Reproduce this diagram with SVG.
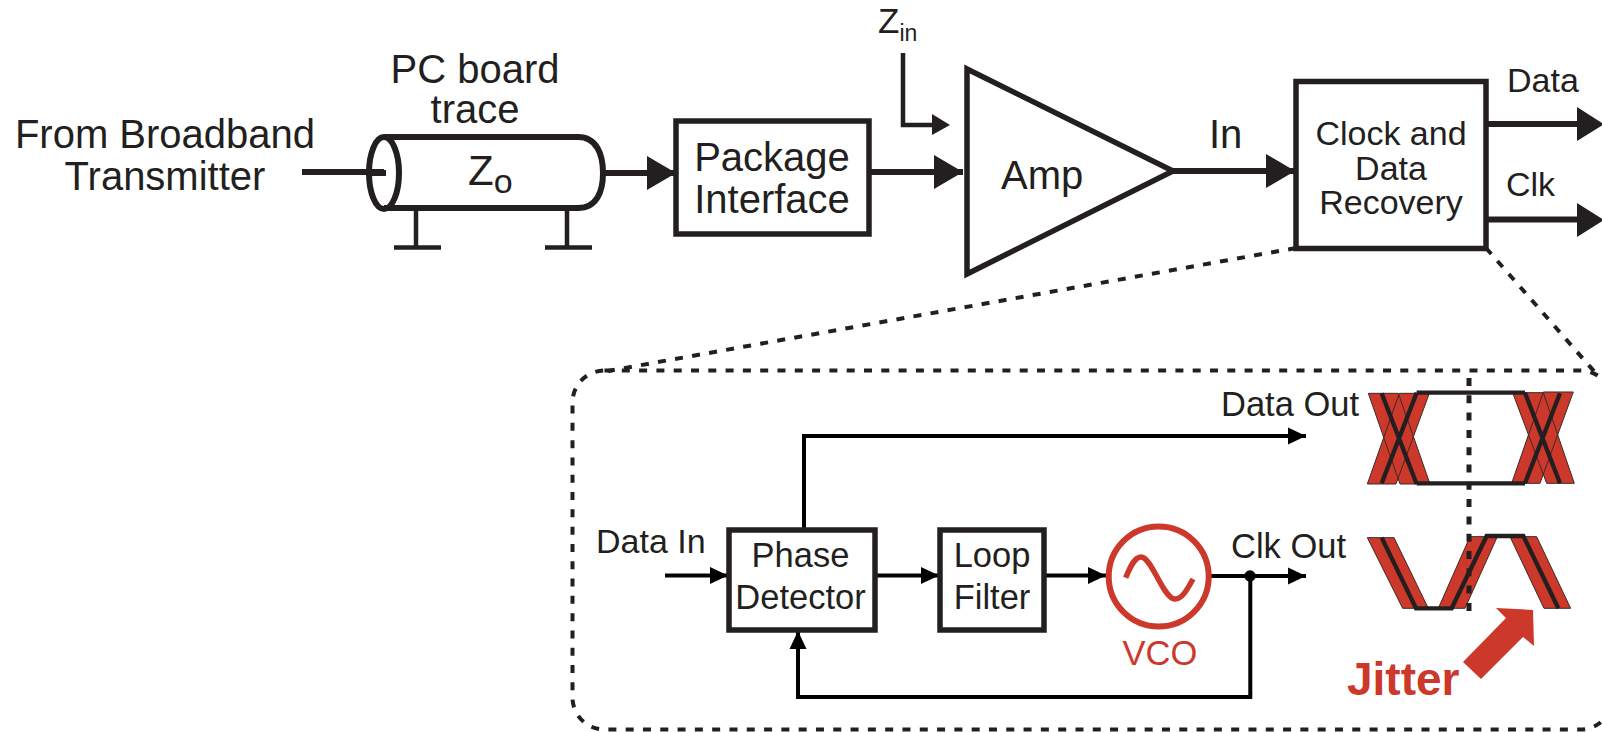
<svg xmlns="http://www.w3.org/2000/svg" width="1602" height="732" viewBox="0 0 1602 732">
<defs>
<marker id="big" markerUnits="userSpaceOnUse" markerWidth="30" markerHeight="34" refX="29" refY="17" orient="auto"><path d="M0 0L29 17L0 34Z" fill="#231f20"/></marker>
<marker id="mid" markerUnits="userSpaceOnUse" markerWidth="20" markerHeight="20" refX="18" refY="10" orient="auto"><path d="M0 1.5L18 10L0 18.500Z" fill="#000"/></marker>
</defs>
<style>
text{font-family:"Liberation Sans",Arial,sans-serif;fill:#231f20}
.box{fill:#fff;stroke:#231f20;stroke-width:5.500}
.l{fill:none;stroke:#231f20;stroke-width:6}
.t{fill:none;stroke:#231f20;stroke-width:4.500}
.s{fill:none;stroke:#000;stroke-width:4}
.d{fill:none;stroke:#231f20;stroke-width:4;stroke-dasharray:8 9.300}
.b{font-size:40px}.m{font-size:34px}.n{font-size:34.500px}.r{fill:#cc3829}
.band{fill:#cc3829;stroke:#3a2a28;stroke-width:3}
.k{fill:none;stroke:#231f20;stroke-width:13}
</style>
<g id="connectors">
<path class="l" d="M302 172H384"/>
<path class="l" d="M604 173H676" marker-end="url(#big)"/>
<path class="l" d="M869 172H963" marker-end="url(#big)"/>
<path class="t" d="M903 53V125H935"/>
<path d="M932 114L950 125L932 135Z" fill="#231f20"/>
<path class="l" d="M1173 171H1295" marker-end="url(#big)"/>
<path class="l" d="M1486 124H1580"/>
<path d="M1577 107L1604 124.300L1577 141Z" fill="#231f20"/>
<path class="l" d="M1486 219.500H1580"/>
<path d="M1577 203L1604 220L1577 237Z" fill="#231f20"/>
<path class="d" d="M1296 248L608 371"/>
<path class="d" d="M1486 248L1600 378"/>
<path class="s" d="M665 575.500H728" marker-end="url(#mid)"/>
<path class="s" d="M875 575.500H939" marker-end="url(#mid)"/>
<path class="s" d="M1044 575.500H1106" marker-end="url(#mid)"/>
<path class="s" d="M1209 576H1306" marker-end="url(#mid)"/>
<path class="s" d="M804 528V436H1306" marker-end="url(#mid)"/>
<path class="s" d="M1250.300 576V697H798V631" marker-end="url(#mid)"/>
<circle cx="1250" cy="576" r="5.700" fill="#000"/>
</g>
<g id="trace">
<path class="l" d="M384 137H578C597 137 603 155 603 173C603 191 597 208 578 208H384"/>
<ellipse class="l" cx="384" cy="173" rx="15" ry="36"/>
<path class="l" d="M366 173H386"/>
<path class="t" d="M416 209V247M567 209V247M394 247.500H441M545 247.500H592"/>
<text class="b" x="475" y="83" text-anchor="middle">PC board</text>
<text class="b" x="475" y="123" text-anchor="middle">trace</text>
<text x="468" y="185" style="font-size:42px">Z<tspan style="font-size:34px" dy="8">o</tspan></text>
</g>
<g id="source"><text class="b" x="165" y="148" text-anchor="middle">From Broadband</text><text class="b" x="165" y="190" text-anchor="middle">Transmitter</text></g>
<g id="zin"><text x="878" y="33" style="font-size:35px">Z<tspan style="font-size:23px" dy="8">in</tspan></text></g>
<g id="package"><rect class="box" x="676" y="121" width="193" height="113"/><text class="b" x="772" y="171" text-anchor="middle">Package</text><text class="b" x="772" y="213" text-anchor="middle">Interface</text></g>
<g id="amp"><path class="box" d="M967 69V274L1173 171Z"/><text class="b" x="1001" y="189">Amp</text></g>
<text class="b" x="1209" y="148">In</text>
<g id="cdr"><rect class="box" x="1296" y="81.500" width="190" height="167"/>
<text class="m" x="1391" y="145" text-anchor="middle">Clock and</text><text class="m" x="1391" y="180" text-anchor="middle">Data</text><text class="m" x="1391" y="214" text-anchor="middle">Recovery</text></g>
<text class="m" x="1507" y="92">Data</text>
<text class="m" x="1506" y="196">Clk</text>
<rect id="inset" class="d" x="572.500" y="370.500" width="1040" height="359" rx="32"/>
<text class="n" x="1221" y="416">Data Out</text>
<text class="m" x="596" y="553">Data In</text>
<text class="n" x="1231" y="558">Clk Out</text>
<g id="pd"><rect class="box" x="729" y="530" width="146" height="100"/><text class="n" x="800.500" y="567" text-anchor="middle">Phase</text><text class="n" x="800.500" y="609" text-anchor="middle">Detector</text></g>
<g id="lf"><rect class="box" x="940" y="530" width="104" height="100"/><text class="n" x="992" y="567" text-anchor="middle">Loop</text><text class="n" x="992" y="609" text-anchor="middle">Filter</text></g>
<g id="vco"><circle cx="1158.700" cy="576.500" r="50" fill="#fff" stroke="#cc3829" stroke-width="6"/><path d="M1125.700 577.700C1131 565 1135 557 1141 557C1152 557 1163 599 1175 599C1182 599 1187 590 1193 579" fill="none" stroke="#cc3829" stroke-width="5.500"/><text class="n r" x="1160" y="665" text-anchor="middle">VCO</text></g>
<g id="eye" transform="translate(1340 360) scale(.3333)">
<path class="band" d="M85 100H175L270 372H180Z M178 100H268L168 372H82Z M518 98H610L703 370H620Z M610 96H700L600 370H515Z M82 533H162L265 745H188Z M295 745H375L472 530H390Z M510 530H590L692 745H612Z"/>
<path class="k" d="M125 100L230 372M230 98L125 370M555 98L660 370M660 100L555 370M230 98H555M230 370H555M125 533L228 745H335L440 528H550L655 745"/>
</g>
<path class="d" d="M1469 378V612" style="stroke-width:5"/>
<path class="r" d="M1496 608L1533 610L1534 646L1523 637L1481 679L1463 662L1506 618Z"/>
<text x="1347" y="695" style="font-size:46px;font-weight:bold;fill:#cc3829">Jitter</text>
</svg>
